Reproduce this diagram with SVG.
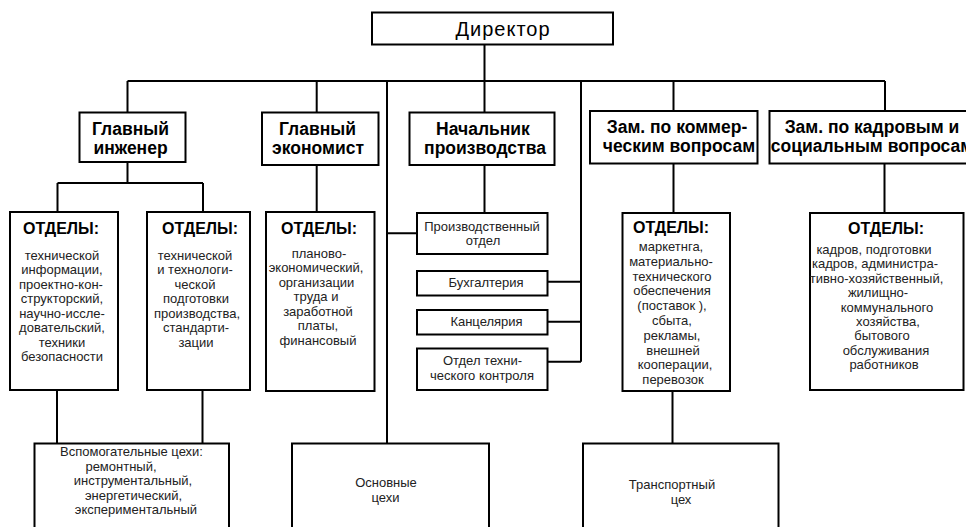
<svg xmlns="http://www.w3.org/2000/svg" width="966" height="527" viewBox="0 0 966 527">
<style>
.box{fill:#fff;stroke:#000;stroke-width:2}
.ln{stroke:#000;stroke-width:2;fill:none}
text{font-family:"Liberation Sans",Arial,sans-serif;text-anchor:middle}
.dir{font-size:20px;letter-spacing:1px;fill:#000}
.h{font-size:17.5px;font-weight:bold;fill:#000}
.o{font-size:16px;font-weight:bold;fill:#000}
.t{font-size:13px;fill:#222}
</style>
<rect width="966" height="527" fill="#fff"/>
<g id="connectors" class="ln">
<path d="M484.5 44.5V81M127.5 81H885M127.5 81V112.5M316.7 81V112.5M387 81V443.5M484.5 81V112.5M581 81V361.7M673.5 81V111M885 81V111"/>
<path d="M127.5 162V183M57.5 183H203M57.5 183V212M203 183V212M57 390V443.5M202.5 390V443.5"/>
<path d="M316.7 165V212M387 233.3H417M484.5 165V213M547.5 281.7H581M547.5 321.7H581M547.5 361.7H581"/>
<path d="M673.5 163.5V213M672.5 391V443.5M884.5 163.5V213"/>
</g>
<g id="director"><rect class="box" x="372" y="12.5" width="241" height="32"/><text class="dir" x="503" y="36">Директор</text></g>
<g id="chief-engineer"><rect class="box" x="79.5" y="112.5" width="106" height="49.5"/><text class="h" x="130.5" y="135">Главный</text><text class="h" x="130.5" y="154">инженер</text></g>
<g id="chief-economist"><rect class="box" x="262" y="112.5" width="116.5" height="52.5"/><text class="h" x="317.5" y="134.5">Главный</text><text class="h" x="318" y="154">экономист</text></g>
<g id="production-head"><rect class="box" x="409.5" y="112.5" width="145" height="52.5"/><text class="h" x="483" y="134.5">Начальник</text><text class="h" x="485" y="154">производства</text></g>
<g id="commerce-deputy"><rect class="box" x="590" y="111" width="167.5" height="52.5"/><text class="h" x="677" y="132.5">Зам. по коммер-</text><text class="h" x="679" y="152">ческим вопросам</text></g>
<g id="hr-deputy"><rect class="box" x="769.5" y="111" width="210" height="52.5"/><text class="h" x="872" y="132.5">Зам. по кадровым и</text><text class="h" x="872" y="152">социальным вопросам</text></g>
<g id="dept-tech-info"><rect class="box" x="10" y="212" width="108" height="178"/><text class="o" x="61" y="234">ОТДЕЛЫ:</text>
<text class="t" x="62"><tspan x="62" y="259.5">технической</tspan><tspan x="62" y="274">информации,</tspan><tspan x="61" y="288.5">проектно-кон-</tspan><tspan x="62" y="303">структорский,</tspan><tspan x="62" y="317.5">научно-иссле-</tspan><tspan x="62" y="332">довательский,</tspan><tspan x="62" y="346.5">техники</tspan><tspan x="62" y="361">безопасности</tspan></text></g>
<g id="dept-tech-prep"><rect class="box" x="147" y="212" width="103" height="178"/><text class="o" x="200" y="234">ОТДЕЛЫ:</text>
<text class="t"><tspan x="195" y="259.5">технической</tspan><tspan x="195" y="274">и технологи-</tspan><tspan x="195" y="288.5">ческой</tspan><tspan x="196" y="303">подготовки</tspan><tspan x="197" y="317.5">производства,</tspan><tspan x="196" y="332">стандарти-</tspan><tspan x="196" y="346.5">зации</tspan></text></g>
<g id="dept-economic"><rect class="box" x="266" y="212" width="108.5" height="179"/><text class="o" x="319" y="234">ОТДЕЛЫ:</text>
<text class="t"><tspan x="319" y="257.5">планово-</tspan><tspan x="316" y="272">экономический,</tspan><tspan x="316.5" y="286.5">организации</tspan><tspan x="316" y="301">труда и</tspan><tspan x="318" y="315.5">заработной</tspan><tspan x="318" y="330">платы,</tspan><tspan x="318" y="344.5">финансовый</tspan></text></g>
<g id="production-dept"><rect class="box" x="417" y="213" width="130.5" height="41"/><text class="t" x="482" y="231">Производственный</text><text class="t" x="483" y="245">отдел</text></g>
<g id="accounting"><rect class="box" x="417" y="271" width="130.5" height="24.5"/><text class="t" x="486" y="287">Бухгалтерия</text></g>
<g id="chancellery"><rect class="box" x="417" y="310" width="130.5" height="24.5"/><text class="t" x="486.5" y="325.5">Канцелярия</text></g>
<g id="quality-control"><rect class="box" x="417" y="348.5" width="130.5" height="41.5"/><text class="t" x="482.5" y="364.5">Отдел техни-</text><text class="t" x="482" y="379.5">ческого контроля</text></g>
<g id="dept-commerce"><rect class="box" x="622.5" y="213" width="107.5" height="178"/><text class="o" x="671" y="233">ОТДЕЛЫ:</text>
<text class="t"><tspan x="671" y="251">маркетнга,</tspan><tspan x="671" y="265.8">материально-</tspan><tspan x="672" y="280.6">технического</tspan><tspan x="672" y="295.4">обеспечения</tspan><tspan x="672" y="310.2">(поставок ),</tspan><tspan x="672" y="325">сбыта,</tspan><tspan x="672" y="339.8">рекламы,</tspan><tspan x="673" y="354.6">внешней</tspan><tspan x="675" y="369.4">кооперации,</tspan><tspan x="673" y="384.2">перевозок</tspan></text></g>
<g id="dept-hr"><rect class="box" x="810" y="213" width="153.5" height="177"/><text class="o" x="886" y="234">ОТДЕЛЫ:</text>
<text class="t"><tspan x="874" y="254">кадров, подготовки</tspan><tspan x="875" y="268.4">кадров, администра-</tspan><tspan x="876.5" y="282.8">тивно-хозяйственный,</tspan><tspan x="878" y="297.2">жилищно-</tspan><tspan x="887" y="311.6">коммунального</tspan><tspan x="888" y="326">хозяйства,</tspan><tspan x="882" y="340.4">бытового</tspan><tspan x="886" y="354.8">обслуживания</tspan><tspan x="884" y="369.2">работников</tspan></text></g>
<g id="aux-shops"><rect class="box" x="34.5" y="443.5" width="194.5" height="100"/>
<text class="t"><tspan x="131.5" y="456">Вспомогательные цехи:</tspan><tspan x="121" y="470.5">ремонтный,</tspan><tspan x="133" y="485">инструментальный,</tspan><tspan x="133.5" y="499.5">энергетический,</tspan><tspan x="136" y="514">экспериментальный</tspan></text></g>
<g id="main-shops"><rect class="box" x="292" y="443.5" width="197" height="100"/><text class="t" x="386" y="486.5">Основные</text><text class="t" x="385.5" y="502">цехи</text></g>
<g id="transport-shop"><rect class="box" x="583" y="443.5" width="195.5" height="100"/><text class="t" x="672" y="488.5">Транспортный</text><text class="t" x="681" y="504">цех</text></g>
</svg>
